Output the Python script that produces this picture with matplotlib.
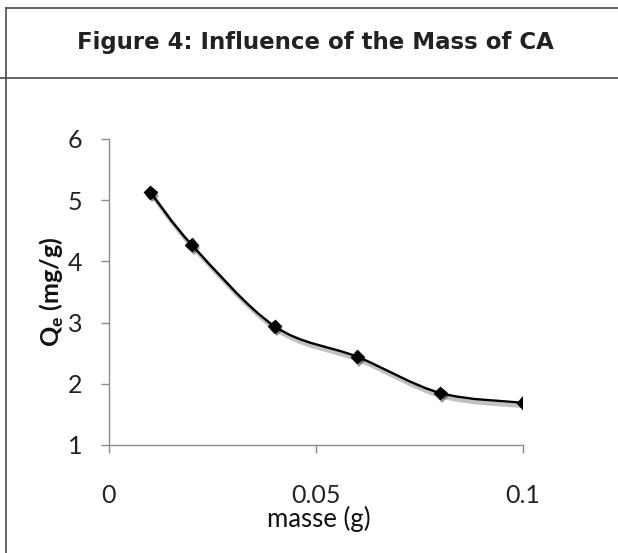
import numpy as np
import matplotlib.pyplot as plt
from matplotlib.path import Path
from matplotlib.patches import PathPatch
from matplotlib.lines import Line2D
import matplotlib.patheffects as pe

# data
masse = [0.01, 0.02, 0.04, 0.06, 0.08, 0.10]
qe = [5.13, 4.27, 2.94, 2.44, 1.85, 1.69]

x_ticks = [0, 0.05, 0.1]
x_ticklabels = ["0", "0.05", "0.1"]
y_ticks = [1, 2, 3, 4, 5, 6]

title = "Figure 4: Influence of the Mass of CA"


def smooth_path(xs, ys):
    # Catmull-Rom style smoothing (like Excel's smoothed line) as cubic beziers
    pts = np.column_stack([xs, ys]).astype(float)
    ext = np.vstack([pts[0], pts, pts[-1]])
    verts = [pts[0]]
    codes = [Path.MOVETO]
    for i in range(1, len(ext) - 2):
        p0, p1, p2, p3 = ext[i - 1], ext[i], ext[i + 1], ext[i + 2]
        c1 = p1 + (p2 - p0) / 6.0
        c2 = p2 - (p3 - p1) / 6.0
        verts += [c1, c2, p2]
        codes += [Path.CURVE4] * 3
    return Path(verts, codes)


fig = plt.figure(figsize=(6.18, 5.53), dpi=100)
W, H = 618, 553

# frame lines of the figure box
frame_col = "#4a4a4a"
fig.add_artist(Line2D([6 / W, 6 / W], [0, 1 - 8 / H], color=frame_col, lw=1.2))
fig.add_artist(Line2D([6 / W, 1], [1 - 8 / H, 1 - 8 / H], color=frame_col, lw=1.2))
fig.add_artist(Line2D([0, 1], [1 - 78 / H, 1 - 78 / H], color=frame_col, lw=1.2))

fig.text(315 / W, 1 - 43 / H, title, ha="center", va="center",
         fontsize=16.5, fontweight="bold", family="DejaVu Sans", color="#222222")

ax = fig.add_axes([109 / W, 1 - 445 / H, (523 - 109) / W, (445 - 139) / H])

shadow = [pe.SimpleLineShadow(offset=(1.5, -2.5), shadow_color="#666666", alpha=0.4,
                              linewidth=3),
          pe.Normal()]

patch = PathPatch(smooth_path(masse, qe), facecolor="none", edgecolor="black",
                  lw=1.7, path_effects=shadow, zorder=3)
ax.add_patch(patch)
ax.plot(masse, qe, linestyle="none", marker="D", markersize=6.5, color="black",
        path_effects=[pe.SimplePatchShadow(offset=(1.5, -2.5), alpha=0.4), pe.Normal()],
        zorder=4)

ax.set_xlim(0, 0.1)
ax.set_ylim(1, 6)
ax.set_xticks(x_ticks)
ax.set_xticklabels(x_ticklabels)
ax.set_yticks(y_ticks)

for s in ["top", "right"]:
    ax.spines[s].set_visible(False)
for s in ["left", "bottom"]:
    ax.spines[s].set_color("#8c8c8c")
    ax.spines[s].set_linewidth(1.0)

ax.tick_params(axis="both", direction="out", length=6, width=1.0, color="#8c8c8c",
               labelsize=18, labelcolor="#222222")
ax.tick_params(axis="x", pad=22)
ax.tick_params(axis="y", pad=13)
for lab in ax.get_xticklabels() + ax.get_yticklabels():
    lab.set_family("Lato")

ax.set_xlabel("masse (g)", fontsize=18.5, family="Lato", color="#111111",
              va="center", ha="center")
ax.xaxis.set_label_coords((319 - 109) / 414, (445 - 519) / 306)
ax.set_ylabel(r"Q$_\mathregular{e}$ (mg/g)", fontsize=18, family="Lato",
              fontweight="bold", color="#111111", va="center", ha="center")
ax.yaxis.set_label_coords((52 - 109) / 414, (445 - 292) / 306)

fig.savefig("out.png", dpi=100)
